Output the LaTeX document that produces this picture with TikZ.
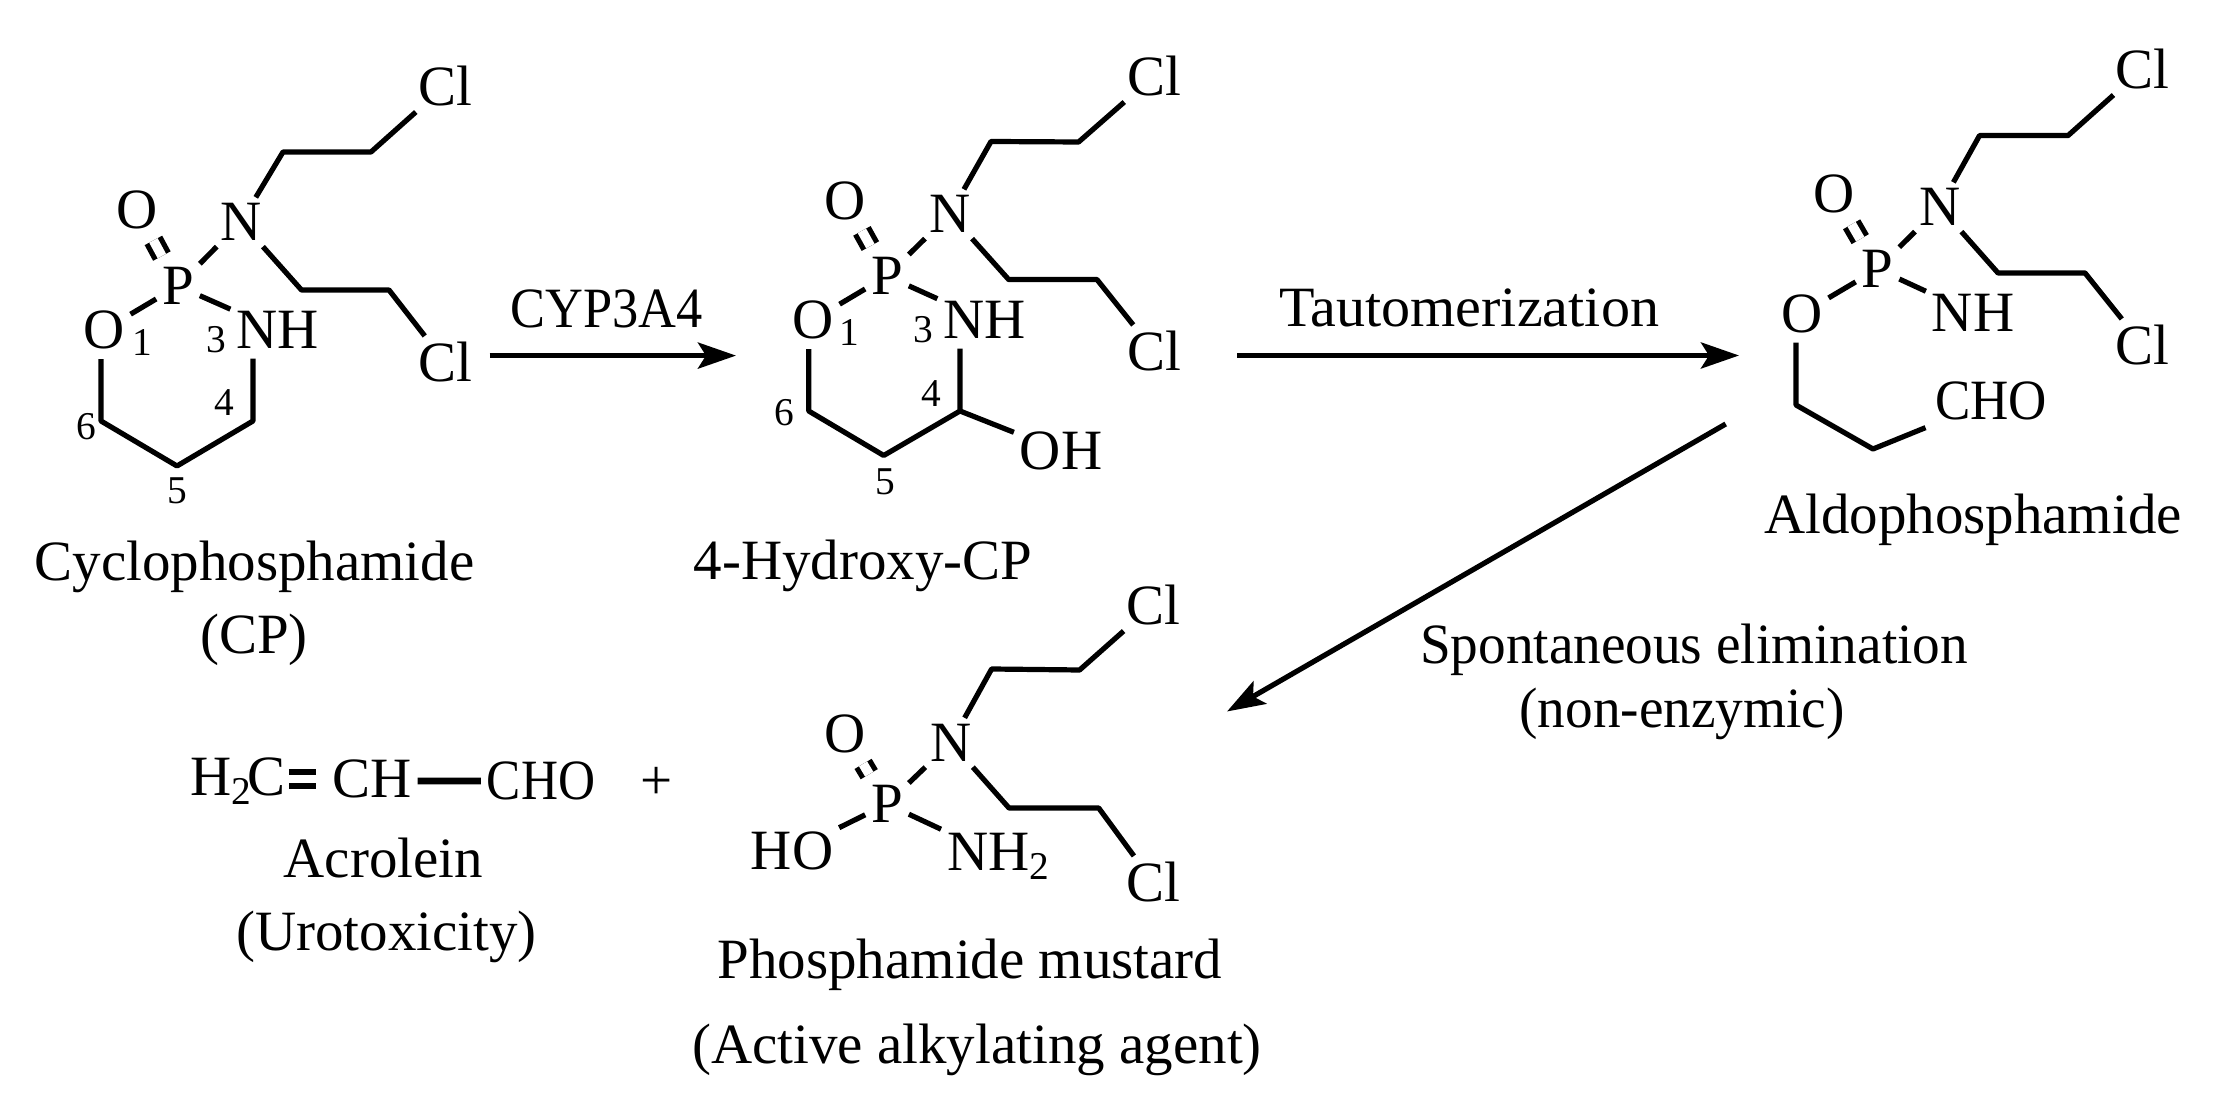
\documentclass[tikz,border=0pt]{standalone}
\usepackage{fontspec}
\setmainfont{Liberation Serif}
\usetikzlibrary{arrows.meta}
\newcommand{\subnum}[1]{\raisebox{-.09cm}{\fontsize{11.2}{12}\selectfont #1}}
\tikzset{atom/.style={inner sep=.06cm,outer sep=0pt},
titletext/.style={inner sep=0pt,anchor=base},
numtext/.style={inner sep=0pt,font=\fontsize{11.2}{12}\selectfont},
bond/.style={line width=.052cm,line join=round},
ringbond/.style={bond,shorten >=.04cm,shorten <=.04cm},
dblbond/.style={line width=.052cm,double,double distance=.095cm,shorten >=.06cm,shorten <=.06cm},
rxn/.style={line width=.052cm,-{Stealth[length=.38cm,width=.26cm,inset=.08cm]}}}
\begin{document}
\begin{tikzpicture}[x=.01cm,y=-.01cm,font=\fontsize{16.2}{19}\selectfont,line join=round]
\useasboundingbox (0,0) rectangle (2237,1098);
\node[atom] (Cla1) at (445,86) {Cl};
\node[atom] (Cla2) at (445,362) {Cl};
\node[atom] (Na) at (241,222) {N};
\node[atom] (Oa) at (137,210) {O};
\node[atom] (Pa) at (178,286) {P};
\node[atom] (Ra) at (104,330) {O};
\node[atom] (Ha) at (277.5,330) {NH};
\coordinate (Ca4) at (253,421);
\coordinate (Ca6) at (101,421);
\draw[bond] (Na)--(283,152)--(371,152)--(Cla1);
\draw[bond] (Na)--(301.5,290)--(389,290)--(Cla2);
\draw[dblbond] (Oa)--(Pa);
\draw[bond] (Pa)--(Na);
\draw[bond] (Pa)--(Ra);
\draw[bond] (Pa)--(Ha);
\draw[ringbond] (Ca6 |- Ra.south)--(Ca6)--(177,466)--(Ca4)--(Ca4 |- Ha.south);
\node[numtext] (na1) at (142,343) {1};
\node[numtext] (na3) at (216,340) {3};
\node[numtext] (na4) at (224,403) {4};
\node[numtext] (na5) at (177,491) {5};
\node[numtext] (na6) at (86,427) {6};
\node[titletext] (ta1) at (254.5,581) {Cyclophosphamide};
\node[titletext] (ta2) at (254,654) {(CP)};
\coordinate (s1) at (489.5,355.6);
\coordinate (e1) at (736,355.6);
\draw[rxn] (s1)--(e1);
\node[titletext] (l1) at (606.5,328) {\scalebox{.92}[1]{CYP3A4}};
\node[atom] (Clb1) at (1154,76) {Cl};
\node[atom] (Clb2) at (1154,351) {Cl};
\node[atom] (Nb) at (950,214) {N};
\node[atom] (Ob) at (845,200.5) {O};
\node[atom] (Pb) at (887,276) {P};
\node[atom] (Rb) at (813,320) {O};
\node[atom] (Hb) at (984.5,320) {NH};
\node[atom] (Hob) at (1061,451) {OH};
\coordinate (Cb4) at (960,411);
\coordinate (Cb6) at (808.7,411);
\draw[bond] (Nb)--(991,141.5)--(1078.6,142)--(Clb1);
\draw[bond] (Nb)--(1008.7,279.6)--(1097,279.6)--(Clb2);
\draw[dblbond] (Ob)--(Pb);
\draw[bond] (Pb)--(Nb);
\draw[bond] (Pb)--(Rb);
\draw[bond] (Pb)--(Hb);
\draw[ringbond] (Cb6 |- Rb.south)--(Cb6)--(883.7,455.5)--(Cb4)--(Cb4 |- Hb.south);
\draw[bond] (Cb4)--(Hob);
\node[numtext] (nb1) at (849.5,333) {1};
\node[numtext] (nb3) at (923.5,330) {3};
\node[numtext] (nb4) at (931,394) {4};
\node[numtext] (nb5) at (885,482) {5};
\node[numtext] (nb6) at (784,413) {6};
\node[titletext] (tb1) at (863,580) {4-Hydroxy-CP};
\coordinate (s2) at (1237,355.5);
\coordinate (e2) at (1739,355.5);
\draw[rxn] (s2)--(e2);
\node[titletext] (l2) at (1469,327) {\scalebox{1.02}[1]{Tautomerization}};
\node[atom] (Clc1) at (2142.6,69) {Cl};
\node[atom] (Clc2) at (2142.6,345) {Cl};
\node[atom] (Nc) at (1939.6,207) {N};
\node[atom] (Oc) at (1834,194) {O};
\node[atom] (Pc) at (1877.5,269) {P};
\node[atom] (Rc) at (1802,313.6) {O};
\node[atom] (Hc) at (1973,313) {NH};
\node[atom] (Cho3) at (1991,401) {\scalebox{.93}[1]{CHO}};
\coordinate (Cc6) at (1796,405);
\draw[bond] (Nc)--(1979.5,135.6)--(2068,135.6)--(Clc1);
\draw[bond] (Nc)--(1998,273)--(2085,273)--(Clc2);
\draw[dblbond] (Oc)--(Pc);
\draw[bond] (Pc)--(Nc);
\draw[bond] (Pc)--(Rc);
\draw[bond] (Pc)--(Hc);
\draw[ringbond] (Cc6 |- Rc.south)--(Cc6)--(1873,449)--(Cho3);
\node[titletext] (tc1) at (1973,534) {Aldophosphamide};
\coordinate (s3) at (1725.7,424);
\coordinate (e3) at (1227,711.5);
\draw[rxn] (s3)--(e3);
\node[titletext] (l3) at (1694,664) {\scalebox{.97}[1]{Spontaneous elimination}};
\node[titletext] (l4) at (1682,728) {\scalebox{.97}[1]{(non-enzymic)}};
\node[atom] (Cld1) at (1153,605) {Cl};
\node[atom] (Cld2) at (1153,882) {Cl};
\node[atom] (Nd) at (951,742.5) {N};
\node[atom] (Od) at (845,733.6) {O};
\node[atom] (Pd) at (887,804) {P};
\node[atom] (Hod) at (792,851) {HO};
\node[atom,anchor=base west] (Hd) at (941,870) {NH\subnum{2}};
\draw[bond] (Nd)--(991.6,669)--(1079.6,670)--(Cld1);
\draw[bond] (Nd)--(1009,808)--(1098.7,808)--(Cld2);
\draw[dblbond] (Od)--(Pd);
\draw[bond] (Pd)--(Nd);
\draw[bond] (Pd)--(Hod);
\draw[bond] (Pd)--(Hd);
\node[titletext] (td1) at (970,978) {Phosphamide mustard};
\node[titletext] (td2) at (977,1063) {(Active alkylating agent)};
\node[atom,anchor=base west] (Che) at (184,795) {H\subnum{2}\kern-.03cm C};
\node[atom] (Chf) at (372,779) {CH};
\node[atom] (Chg) at (541,781) {\scalebox{.9}[1]{CHO}};
\draw[line width=.065cm,double,double distance=.07cm,shorten <=-.03cm,shorten >=.1cm] (Che.east |- Chf.west)--(Chf.west);
\draw[line width=.065cm] ([yshift=-.02cm]Chf.east)--(Chg.west);
\node[titletext] (plus) at (656.5,800) {+};
\node[titletext] (te1) at (383.5,877) {Acrolein};
\node[titletext] (te2) at (386.5,950) {(Urotoxicity)};
\end{tikzpicture}
\end{document}
